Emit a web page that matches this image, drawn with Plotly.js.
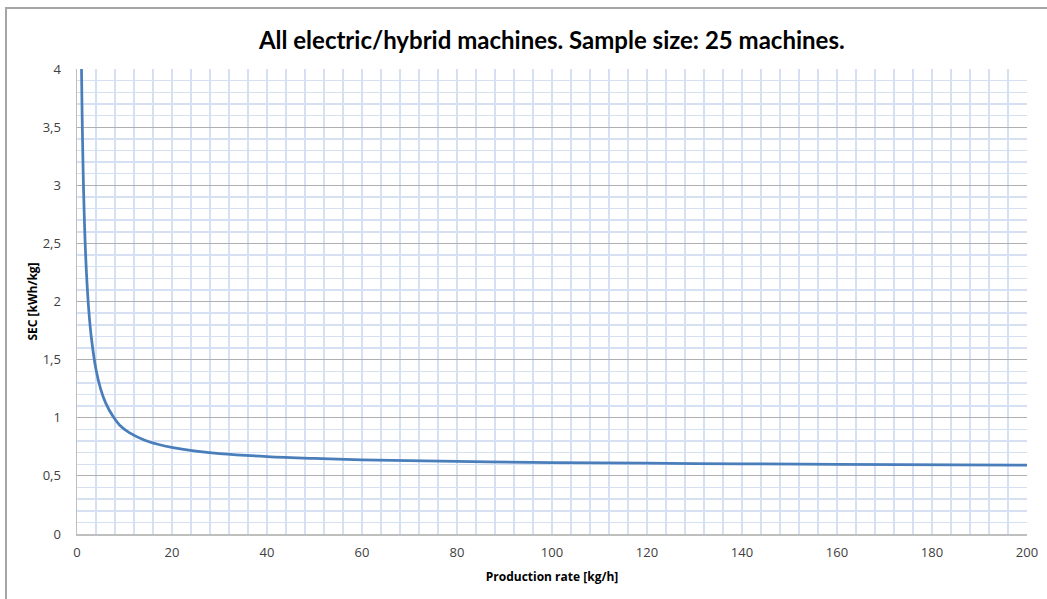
<!DOCTYPE html>
<html>
<head>
<meta charset="utf-8">
<script src="https://cdn.plot.ly/plotly-3.0.1.min.js"></script>
<style>
  html, body { margin: 0; padding: 0; background: #ffffff; }
  #frame { position: absolute; left: 5px; top: 7px; width: 1200px; height: 800px; border: 2px solid #a6a6a6; box-sizing: border-box; }
  #chart { position: absolute; left: 0; top: 0; width: 1047px; height: 599px; }
</style>
</head>
<body>
<div id="frame"></div>
<div id="chart"></div>
<script>
// Production rate [kg/h]
const productionRate = [0.9, 0.95, 1.1, 1.3, 1.6, 2.0, 2.5, 3.0, 4.0, 5.0, 6.0, 7.6, 9.0, 11, 14, 17, 20.2, 25, 30, 40, 50, 60, 80, 100, 130, 160, 200];
// SEC [kWh/kg]
const sec = [4.19, 4.0, 3.55, 3.105, 2.64, 2.24, 1.914, 1.697, 1.415, 1.244, 1.13, 1.01, 0.936, 0.872, 0.811, 0.772, 0.743, 0.713, 0.692, 0.666, 0.65, 0.638, 0.624, 0.615, 0.606, 0.599, 0.592];

const chartTitle = 'All electric/hybrid machines. Sample size: 25 machines.';
const xTitle = 'Production rate [kg/h]';
const yTitle = 'SEC [kWh/kg]';

const trace = {
  x: productionRate,
  y: sec,
  type: 'scatter',
  mode: 'lines',
  line: { color: '#4a7ebb', width: 2.75, shape: 'spline', smoothing: 1 },
  hoverinfo: 'x+y'
};

const layout = {
  width: 1047,
  height: 599,
  paper_bgcolor: 'rgba(0,0,0,0)',
  plot_bgcolor: '#ffffff',
  separators: ',.',
  margin: { l: 77, r: 20, t: 69, b: 65 },
  showlegend: false,
  title: {
    text: '<b>' + chartTitle + '</b>',
    font: { family: 'Lato, "Open Sans", sans-serif', size: 24, color: '#000000' },
    x: 0.527, xanchor: 'center', y: 0.932, yanchor: 'middle'
  },
  xaxis: {
    range: [0, 200],
    dtick: 20,
    tick0: 0,
    showgrid: true,
    gridcolor: '#d6e0f3',
    gridwidth: 1.5,
    minor: { dtick: 4, showgrid: true, gridcolor: '#d6e0f3', gridwidth: 1.5 },
    showline: true,
    linecolor: '#bfbfbf',
    linewidth: 1.5,
    zeroline: false,
    ticks: '',
    ticklabelstandoff: 6,
    tickfont: { family: '"Open Sans", sans-serif', size: 13, color: '#404040' },
    title: { text: '<b>' + xTitle + '</b>', font: { family: '"Open Sans", sans-serif', size: 12, color: '#000000' }, standoff: 12 },
    fixedrange: true
  },
  yaxis: {
    range: [0, 4],
    dtick: 0.5,
    tick0: 0,
    showgrid: true,
    gridcolor: '#b0b0b0',
    gridwidth: 1,
    minor: { dtick: 0.1, showgrid: true, gridcolor: '#d6e0f3', gridwidth: 1.5 },
    showline: true,
    linecolor: '#bfbfbf',
    linewidth: 1.5,
    zeroline: false,
    ticks: '',
    ticklabelstandoff: 12,
    tickfont: { family: '"Open Sans", sans-serif', size: 13, color: '#404040' },
    title: { text: '<b>' + yTitle + '</b>', font: { family: '"Open Sans", sans-serif', size: 12, color: '#000000' }, standoff: 2 },
    fixedrange: true
  }
};

Plotly.newPlot('chart', [trace], layout, { displayModeBar: false, staticPlot: true });
</script>
</body>
</html>
